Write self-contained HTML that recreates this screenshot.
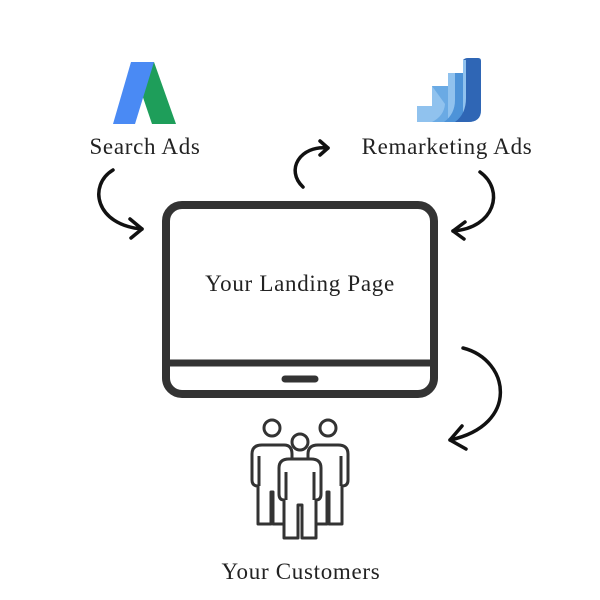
<!DOCTYPE html>
<html><head><style>
html,body{margin:0;padding:0;background:#fff;}
svg{display:block;}
text{font-family:"Liberation Serif",serif;fill:#222;letter-spacing:0.7px;}
</style></head><body>
<svg width="600" height="600" viewBox="0 0 600 600" xmlns="http://www.w3.org/2000/svg">
<!-- Search Ads logo -->
<polygon points="131,62 154,62 176,124 152,124" fill="#1e9e5a"/>
<polygon points="131,62 154,62 135,124 113,124" fill="#4a8af4"/>
<!-- Remarketing logo -->
<path d="M417,106 H432 V86 H448 V73 H463 V60 Q465,58 468,58 H478 Q481,58 481,61 V110 Q481,122 468,122 H417 Z" fill="#90c2ee"/>
<path d="M432,86 H448 V122 H432 Q444,116 445,104 Z" fill="#6aaae4"/>
<path d="M448,73 H463 V122 H444 Q455,114 455,100 V73 Z" fill="#4d93d8"/>
<path d="M463,60 Q465,58 468,58 H478 Q481,58 481,61 V110 Q481,122 468,122 H455 Q466,114 466,98 V60 Z" fill="#2f66b5"/>
<text x="145" y="154" font-size="23" text-anchor="middle">Search Ads</text>
<text x="447" y="154" font-size="23" text-anchor="middle">Remarketing Ads</text>
<!-- monitor -->
<rect x="166" y="205" width="268" height="189" rx="16" fill="none" stroke="#333" stroke-width="8"/>
<line x1="166" y1="363" x2="434" y2="363" stroke="#333" stroke-width="7"/>
<line x1="285" y1="379" x2="315" y2="379" stroke="#333" stroke-width="7" stroke-linecap="round"/>
<text x="300" y="291" font-size="23" text-anchor="middle">Your Landing Page</text>
<!-- arrows -->
<g fill="none" stroke="#111" stroke-width="3.5" stroke-linecap="round" stroke-linejoin="round">
<path d="M113,170 C88,185 95,225 142,229"/>
<path d="M130,219 L142,229 L131,238"/>
<path d="M303,187 C285,170 300,145 328,148"/>
<path d="M320,141 L328,148 L320,155"/>
<path d="M480,172 C505,190 495,228 453,231"/>
<path d="M465,222 L453,231 L464,239"/>
<path d="M463,348 C510,360 520,425 450,440"/>
<path d="M462,426 L450,440 L466,449"/>
</g>
<!-- people -->
<g fill="#fff" stroke="#333" stroke-width="3" stroke-linejoin="round">
<circle cx="272" cy="428" r="8"/>
<circle cx="328" cy="428" r="8"/>
<path d="M258,486 Q252,486 252,480 V454 Q252,445 262,445 H284 Q292,445 292,454 V480 Q292,486 286,486 V524 H273 V492 H271 V524 H258 Z"/>
<path d="M314,486 Q308,486 308,480 V454 Q308,445 318,445 H338 Q348,445 348,454 V480 Q348,486 342,486 V524 H329 V492 H327 V524 H314 Z"/>
<circle cx="300" cy="442" r="8"/>
<path d="M284,500 Q279,500 279,494 V468 Q279,459 289,459 H311 Q321,459 321,468 V494 Q321,500 316,500 V538 H302 V505 H298 V538 H284 Z"/>
<path d="M259,456 V486 M341,456 V486 M286,472 V500 M314,472 V500" fill="none"/>
</g>
<text x="301" y="579" font-size="23" text-anchor="middle">Your Customers</text>
</svg>
</body></html>
